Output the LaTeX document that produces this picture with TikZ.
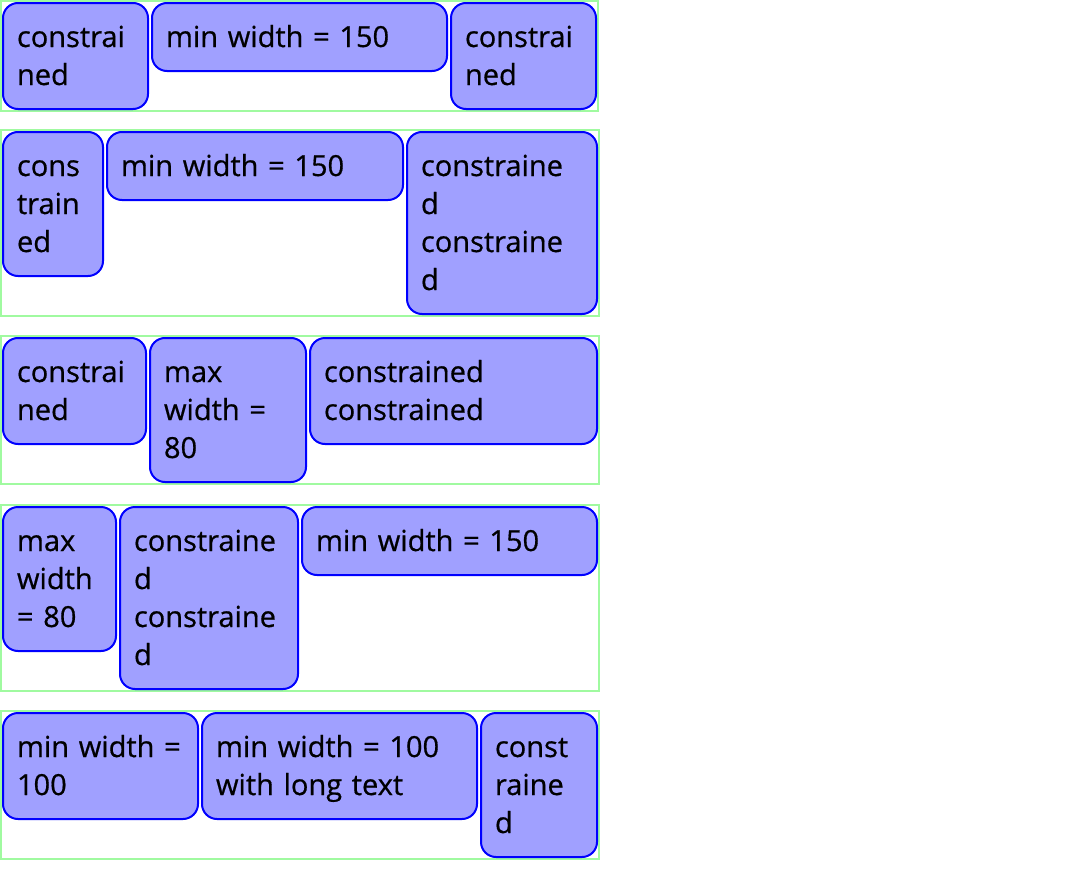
\documentclass[tikz,border=0pt]{standalone}
\usepackage{fontspec}
\setmainfont{Open Sans}[RawFeature={embolden=0.6}]
\usetikzlibrary{fit,backgrounds}
\definecolor{cellfill}{RGB}{160,160,255}
\definecolor{framegreen}{RGB}{160,250,160}
\newcommand{\cellstrut}{\rule[-9pt]{0pt}{38pt}}
\begin{document}
\begin{tikzpicture}[x=1pt, y=-1pt,
    cell/.style={anchor=north west, draw=blue, fill=cellfill, line width=2pt,
      rounded corners=15pt, inner xsep=14pt, inner ysep=15pt, align=left,
      font=\fontsize{29}{38}\selectfont,
      execute at begin node=\cellstrut, execute at end node=\cellstrut},
    frame/.style={draw=framegreen, line width=2pt, inner sep=1pt}]
  \useasboundingbox (0,0) rectangle (1080,878);
  % row 1
  \node[cell, text width=117pt] (r1a) at (2,2) {constrai\\ned};
  \node[cell, text width=267pt] (r1b) at ([xshift=2pt]r1a.north east) {min width = 150};
  \node[cell, text width=117pt] (r1c) at ([xshift=2pt]r1b.north east) {constrai\\ned};
  % row 2
  \node[cell, text width=72pt] (r2a) at (2,131) {cons\\train\\ed};
  \node[cell, text width=268pt] (r2b) at ([xshift=2pt]r2a.north east) {min width = 150};
  \node[cell, text width=162pt] (r2c) at ([xshift=2pt]r2b.north east) {constraine\\d\\constraine\\d};
  % row 3
  \node[cell, text width=115pt] (r3a) at (2,337) {constrai\\ned};
  \node[cell, text width=128pt] (r3b) at ([xshift=2pt]r3a.north east) {max\\width =\\80};
  \node[cell, text width=259pt] (r3c) at ([xshift=2pt]r3b.north east) {constrained\\constrained};
  % row 4
  \node[cell, text width=85pt] (r4a) at (2,506) {max\\width\\= 80};
  \node[cell, text width=150pt] (r4b) at ([xshift=2pt]r4a.north east) {constraine\\d\\constraine\\d};
  \node[cell, text width=267pt] (r4c) at ([xshift=2pt]r4b.north east) {min width = 150};
  % row 5
  \node[cell, text width=167pt] (r5a) at (2,712) {min width =\\100};
  \node[cell, text width=247pt] (r5b) at ([xshift=2pt]r5a.north east) {min width = 100\\with long text};
  \node[cell, text width=88pt] (r5c) at ([xshift=2pt]r5b.north east) {const\\raine\\d};
  % frames
  \begin{scope}[on background layer]
    \node[frame, fit=(r1a)(r1b)(r1c)] (row1) {};
    \node[frame, fit=(r2a)(r2b)(r2c)] (row2) {};
    \node[frame, fit=(r3a)(r3b)(r3c)] (row3) {};
    \node[frame, fit=(r4a)(r4b)(r4c)] (row4) {};
    \node[frame, fit=(r5a)(r5b)(r5c)] (row5) {};
  \end{scope}
\end{tikzpicture}
\end{document}
